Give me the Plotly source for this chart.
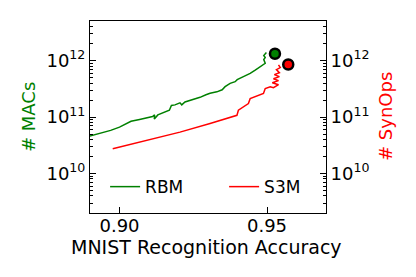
import plotly.graph_objects as go

# RBM (# MACs) trajectory
rbm_acc = [0.8898, 0.8932, 0.8970, 0.9000, 0.9039, 0.9068, 0.9102, 0.9112, 0.9119, 0.9118,
           0.9130, 0.9153, 0.9169, 0.9176, 0.9188, 0.9205, 0.9211, 0.9222, 0.9232, 0.9256,
           0.9273, 0.9293, 0.9307, 0.9330, 0.9348, 0.9358, 0.9375, 0.9392, 0.9399, 0.9420,
           0.9433, 0.9443, 0.9460, 0.9477, 0.9487, 0.9494, 0.9489, 0.9494, 0.9489, 0.9494, 0.9498]
rbm_macs = [4.58e10, 5.07e10, 5.79e10, 6.62e10, 8.38e10, 9.02e10, 9.79e10, 1.02e11, 1.09e11, 9.2e10,
            1.09e11, 1.23e11, 1.32e11, 1.60e11, 1.64e11, 1.78e11, 1.64e11, 1.85e11, 1.91e11, 2.05e11,
            2.23e11, 2.47e11, 2.63e11, 2.79e11, 3.03e11, 3.44e11, 3.94e11, 4.22e11, 4.58e11, 5.18e11,
            5.51e11, 5.93e11, 6.76e11, 7.82e11, 8.49e11, 8.95e11, 1.04e12, 1.13e12, 1.23e12, 1.33e12, 1.39e12]

# S3M (# SynOps) trajectory
s3m_acc = [0.8977, 0.9085, 0.9205, 0.9307, 0.9398, 0.9403, 0.9437, 0.9443, 0.9488, 0.9494,
           0.9511, 0.9522, 0.9539, 0.9518, 0.9539, 0.9522, 0.9542, 0.9525, 0.9542, 0.9532,
           0.9545, 0.9539]
s3m_ops = [2.74e10, 3.73e10, 5.40e10, 7.66e10, 1.07e11, 1.32e11, 1.73e11, 2.12e11, 2.61e11, 3.20e11,
           3.44e11, 3.30e11, 3.73e11, 4.05e11, 4.40e11, 4.77e11, 5.18e11, 5.62e11, 6.11e11, 6.90e11,
           7.50e11, 8.38e11]

# Best points
rbm_best = (0.9527, 1.32e12)
s3m_best = (0.9572, 8.49e11)

y_tickvals = [1e10, 1e11, 1e12]
y_ticklabels = ["10<sup>10</sup>", "10<sup>11</sup>", "10<sup>12</sup>"]
y_minor_vals = [m * 10.0 ** e for e in (9, 10, 11, 12) for m in range(2, 10)]
x_tickvals = [0.90, 0.95]
x_ticklabels = ["0.90", "0.95"]

GREEN = "#008000"
RED = "#FF0000"
FONT = "DejaVu Sans"

fig = go.Figure()
fig.add_trace(go.Scatter(x=rbm_acc, y=rbm_macs, mode="lines", name="RBM",
                         line=dict(color=GREEN, width=1.5)))
fig.add_trace(go.Scatter(x=s3m_acc, y=s3m_ops, mode="lines", name="S3M",
                         line=dict(color=RED, width=1.5), yaxis="y2"))
fig.add_trace(go.Scatter(x=[rbm_best[0]], y=[rbm_best[1]], mode="markers", showlegend=False,
                         marker=dict(color=GREEN, size=10, line=dict(color="black", width=2.5))))
fig.add_trace(go.Scatter(x=[s3m_best[0]], y=[s3m_best[1]], mode="markers", showlegend=False,
                         marker=dict(color=RED, size=10, line=dict(color="black", width=2.5)),
                         yaxis="y2"))

yrange = [9.3, 12.7]
common_y = dict(type="log", range=yrange, tickvals=y_tickvals, ticktext=y_ticklabels,
                showgrid=False, zeroline=False, ticks="inside", ticklen=6, tickcolor="black",
                tickfont=dict(family=FONT, size=18, color="black"),
                minor=dict(tickvals=y_minor_vals, ticks="inside", ticklen=3,
                           tickcolor="black", showgrid=False),
                showline=True, linecolor="black", linewidth=1, automargin=False)

fig.update_layout(
    width=416, height=277,
    margin=dict(l=82, r=98, t=13, b=72),
    paper_bgcolor="white", plot_bgcolor="white",
    font=dict(family=FONT, color="black"),
    xaxis=dict(range=[0.89, 0.97], tickvals=x_tickvals, ticktext=x_ticklabels,
               showgrid=False, zeroline=False, ticks="inside", ticklen=6, tickcolor="black",
               tickfont=dict(family=FONT, size=18, color="black"), ticklabelstandoff=-4,
               showline=True, linecolor="black", linewidth=1, mirror=True, automargin=False),
    yaxis=dict(**common_y),
    yaxis2=dict(**common_y, overlaying="y", side="right"),
    legend=dict(orientation="h", x=0.064, y=0.135, xanchor="left", yanchor="middle",
                bgcolor="rgba(0,0,0,0)", font=dict(family=FONT, size=17),
                entrywidth=74, itemwidth=30),
    showlegend=True,
    annotations=[
        dict(text="MNIST Recognition Accuracy", xref="paper", yref="paper", x=0.495, y=-0.177,
             showarrow=False, font=dict(family=FONT, size=19, color="black"),
             xanchor="center", yanchor="middle"),
        dict(text="# MACs", xref="paper", yref="paper", x=-0.2627, y=0.5,
             showarrow=False, textangle=-90, font=dict(family=FONT, size=18, color=GREEN),
             xanchor="center", yanchor="middle"),
        dict(text="# SynOps", xref="paper", yref="paper", x=1.25, y=0.5,
             showarrow=False, textangle=-90, font=dict(family=FONT, size=18, color=RED),
             xanchor="center", yanchor="middle"),
    ],
)

fig.write_html("out.html")
